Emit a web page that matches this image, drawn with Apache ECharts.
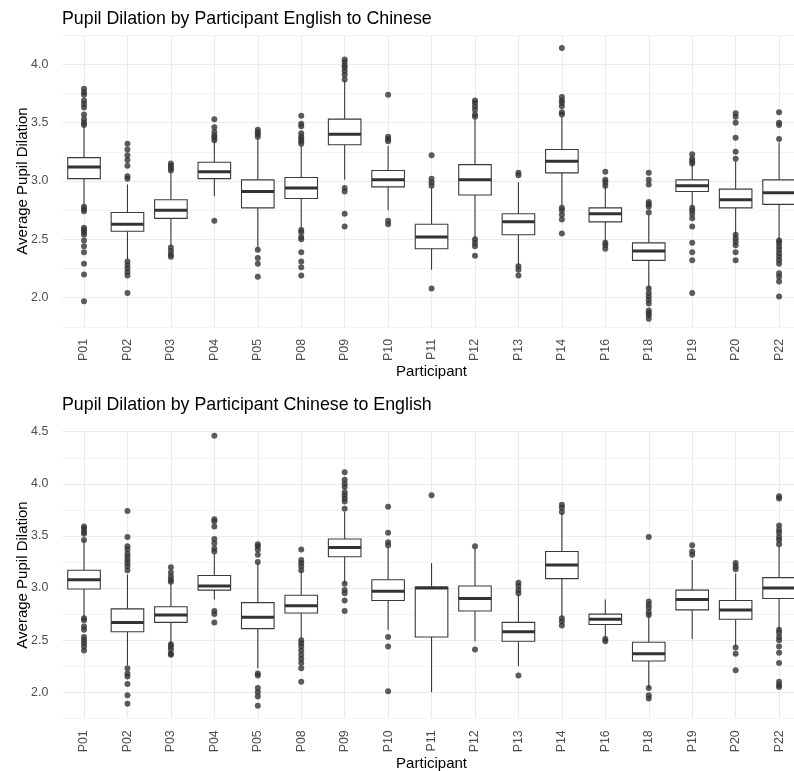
<!DOCTYPE html>
<html>
<head>
<meta charset="utf-8">
<script src="https://cdn.jsdelivr.net/npm/echarts@6/dist/echarts.min.js"></script>
<style>
html,body{margin:0;padding:0;background:#fff;}
#chart{width:794px;height:771px;}
</style>
</head>
<body>
<div id="chart"></div>
<script>
const participants = ['P01','P02','P03','P04','P05','P08','P09','P10','P11','P12','P13','P14','P16','P18','P19','P20','P22'];

// English to Chinese: [lower whisker, Q1, median, Q3, upper whisker]
const ecBoxes = [
  [2.79, 3.02, 3.12, 3.20, 3.47],
  [2.33, 2.57, 2.63, 2.73, 2.97],
  [2.44, 2.68, 2.75, 2.84, 3.08],
  [2.87, 3.02, 3.08, 3.16, 3.34],
  [2.42, 2.77, 2.91, 3.01, 3.37],
  [2.59, 2.85, 2.94, 3.03, 3.30],
  [3.01, 3.31, 3.40, 3.53, 3.86],
  [2.75, 2.95, 3.01, 3.09, 3.30],
  [2.24, 2.42, 2.52, 2.63, 2.94],
  [2.50, 2.88, 3.01, 3.14, 3.53],
  [2.27, 2.54, 2.65, 2.72, 2.99],
  [2.79, 3.07, 3.17, 3.27, 3.55],
  [2.47, 2.65, 2.72, 2.77, 2.96],
  [2.08, 2.32, 2.40, 2.47, 2.71],
  [2.78, 2.91, 2.96, 3.01, 3.15],
  [2.53, 2.77, 2.84, 2.93, 3.17],
  [2.49, 2.80, 2.90, 3.01, 3.33]
];
const ecOutliers = [
  [3.79, 3.76, 3.74, 3.69, 3.66, 3.63, 3.57, 3.53, 3.50, 3.48, 2.78, 2.76, 2.74, 2.60, 2.58, 2.56, 2.54, 2.49, 2.44, 2.39, 2.29, 2.20, 1.97],
  [3.32, 3.27, 3.22, 3.18, 3.13, 3.04, 3.02, 2.31, 2.28, 2.25, 2.22, 2.19, 2.04],
  [3.15, 3.13, 3.11, 3.09, 2.43, 2.40, 2.37, 2.35],
  [3.53, 3.46, 3.42, 3.39, 3.37, 3.35, 2.66],
  [3.44, 3.42, 3.40, 3.38, 2.41, 2.34, 2.29, 2.18],
  [3.56, 3.49, 3.47, 3.41, 3.38, 3.36, 3.34, 3.32, 2.58, 2.56, 2.52, 2.50, 2.39, 2.31, 2.26, 2.19],
  [4.04, 4.02, 3.99, 3.97, 3.94, 3.91, 3.87, 2.94, 2.91, 2.72, 2.61],
  [3.74, 3.38, 3.36, 3.34, 2.66, 2.63],
  [3.22, 3.02, 2.99, 2.96, 2.08],
  [3.69, 3.67, 3.64, 3.61, 3.57, 3.55, 2.50, 2.47, 2.44, 2.36],
  [3.07, 3.05, 2.27, 2.24, 2.19],
  [4.14, 3.72, 3.69, 3.67, 3.64, 3.59, 3.57, 2.77, 2.75, 2.71, 2.67, 2.55],
  [3.08, 3.01, 2.99, 2.96, 2.47, 2.45, 2.42],
  [3.07, 3.01, 2.97, 2.82, 2.80, 2.78, 2.73, 2.08, 2.04, 2.01, 1.98, 1.95, 1.89, 1.87, 1.85, 1.82],
  [3.23, 3.19, 3.17, 3.15, 2.77, 2.75, 2.72, 2.68, 2.61, 2.47, 2.39, 2.32, 2.04],
  [3.58, 3.55, 3.50, 3.37, 3.25, 3.19, 2.54, 2.51, 2.48, 2.45, 2.39, 2.32],
  [3.59, 3.50, 3.48, 3.36, 2.49, 2.47, 2.44, 2.41, 2.38, 2.35, 2.32, 2.29, 2.21, 2.18, 2.14, 2.01]
];

// Chinese to English: [lower whisker, Q1, median, Q3, upper whisker]
const ceBoxes = [
  [2.71, 2.99, 3.08, 3.17, 3.46],
  [2.26, 2.58, 2.67, 2.80, 3.13],
  [2.45, 2.67, 2.74, 2.82, 3.05],
  [2.89, 2.98, 3.02, 3.12, 3.33],
  [2.23, 2.61, 2.72, 2.86, 3.24],
  [2.51, 2.76, 2.83, 2.93, 3.17],
  [3.04, 3.30, 3.39, 3.47, 3.73],
  [2.60, 2.88, 2.97, 3.08, 3.39],
  [2.00, 2.53, 3.00, 3.01, 3.24],
  [2.49, 2.78, 2.90, 3.02, 3.38],
  [2.25, 2.49, 2.58, 2.67, 2.94],
  [2.72, 3.09, 3.22, 3.35, 3.72],
  [2.52, 2.65, 2.70, 2.75, 2.89],
  [2.04, 2.30, 2.37, 2.48, 2.75],
  [2.51, 2.79, 2.89, 2.98, 3.27],
  [2.44, 2.70, 2.79, 2.88, 3.14],
  [2.60, 2.90, 3.00, 3.10, 3.40]
];
const ceOutliers = [
  [3.59, 3.57, 3.54, 3.52, 3.46, 2.71, 2.69, 2.63, 2.60, 2.53, 2.50, 2.47, 2.44, 2.40],
  [3.74, 3.49, 3.40, 3.37, 3.33, 3.30, 3.27, 3.24, 3.21, 3.17, 2.23, 2.18, 2.15, 2.08, 1.97, 1.89],
  [3.20, 3.15, 3.11, 3.08, 3.06, 2.46, 2.44, 2.41, 2.37, 2.36],
  [4.46, 3.66, 3.64, 3.59, 3.47, 3.43, 3.38, 3.35, 2.78, 2.75, 2.67],
  [3.42, 3.40, 3.37, 3.32, 3.25, 2.18, 2.16, 2.04, 2.00, 1.96, 1.87],
  [3.37, 3.27, 3.24, 3.21, 3.17, 2.50, 2.47, 2.44, 2.40, 2.36, 2.32, 2.28, 2.23, 2.10],
  [4.11, 4.04, 4.00, 3.97, 3.92, 3.89, 3.86, 3.83, 3.76, 3.04, 2.98, 2.95, 2.88, 2.78],
  [3.78, 3.53, 3.44, 3.41, 2.53, 2.44, 2.01],
  [3.89],
  [3.40, 2.41],
  [3.05, 3.02, 2.98, 2.95, 2.16],
  [3.80, 3.77, 3.73, 2.71, 2.68, 2.64],
  [2.51, 2.49],
  [3.49, 2.87, 2.84, 2.81, 2.77, 2.74, 2.04, 1.97, 1.94],
  [3.41, 3.35, 3.32],
  [3.24, 3.21, 3.18, 2.43, 2.37, 2.21],
  [3.88, 3.86, 3.60, 3.56, 3.53, 3.49, 3.46, 3.42, 2.60, 2.57, 2.53, 2.50, 2.44, 2.38, 2.28, 2.10, 2.07, 2.05]
];

const titles = ['Pupil Dilation by Participant English to Chinese', 'Pupil Dilation by Participant Chinese to English'];

const FONT = '"Liberation Sans", Arial, sans-serif';
const chart = echarts.init(document.getElementById('chart'), null, {renderer: 'canvas'});

function boxData(boxes) {
  return boxes.map((b, i) => [i, b[0], b[1], b[2], b[3], b[4]]);
}
function outlierData(outs) {
  const res = [];
  outs.forEach((arr, i) => arr.forEach(v => res.push([i, v])));
  return res;
}
function renderBox(params, api) {
  const idx = api.value(0);
  const lo = api.coord([idx, api.value(1)]);
  const q1 = api.coord([idx, api.value(2)]);
  const md = api.coord([idx, api.value(3)]);
  const q3 = api.coord([idx, api.value(4)]);
  const hi = api.coord([idx, api.value(5)]);
  const w = api.size([1, 0])[0] * 0.75;
  const x = q1[0];
  const lineStyle = {stroke: '#3a3a3a', lineWidth: 1.1, fill: null};
  return {
    type: 'group',
    children: [
      {type: 'line', shape: {x1: x, y1: q3[1], x2: x, y2: hi[1]}, style: lineStyle},
      {type: 'line', shape: {x1: x, y1: q1[1], x2: x, y2: lo[1]}, style: lineStyle},
      {type: 'rect', shape: {x: x - w / 2, y: q3[1], width: w, height: q1[1] - q3[1]},
        style: {fill: '#ffffff', stroke: '#3a3a3a', lineWidth: 1.1}},
      {type: 'line', shape: {x1: x - w / 2, y1: md[1], x2: x + w / 2, y2: md[1]},
        style: {stroke: '#333333', lineWidth: 3}}
    ]
  };
}

const grids = [
  {left: 62.3, width: 738.5, top: 35.1, height: 291.8, outerBoundsMode: 'none', containLabel: false},
  {left: 62.3, width: 738.5, top: 431.7, height: 286.6, outerBoundsMode: 'none', containLabel: false}
];
const yRanges = [[1.75, 4.25], [1.75, 4.5]];

const option = {
  backgroundColor: '#ffffff',
  animation: false,
  title: titles.map((t, i) => ({
    text: t,
    left: 57,
    top: i === 0 ? 5 : 391,
    textStyle: {fontFamily: FONT, fontSize: 17.8, fontWeight: 'normal', color: '#000000'}
  })),
  grid: grids,
  xAxis: [0, 1].map(i => ({
    type: 'category',
    gridIndex: i,
    data: participants,
    boundaryGap: true,
    axisLine: {show: false},
    axisTick: {show: false, alignWithLabel: true},
    splitLine: {show: true, alignWithLabel: true, lineStyle: {color: '#ebebeb', width: 1}},
    axisLabel: {rotate: 90, fontFamily: FONT, fontSize: 12.4, color: '#4d4d4d', margin: 12, interval: 0},
    name: 'Participant',
    nameLocation: 'middle',
    nameGap: i === 0 ? 37 : 36,
    nameTextStyle: {fontFamily: FONT, fontSize: 15, color: '#000000'}
  })),
  yAxis: [0, 1].map(i => ({
    type: 'value',
    gridIndex: i,
    min: yRanges[i][0],
    max: yRanges[i][1],
    interval: 0.25,
    axisLine: {show: false},
    axisTick: {show: false},
    splitLine: {show: true, lineStyle: {color: ['#f4f4f4', '#ebebeb'], width: 1}},
    axisLabel: {
      fontFamily: FONT, fontSize: 12.4, color: '#4d4d4d', margin: 14,
      formatter: v => (Math.abs(v * 2 - Math.round(v * 2)) < 1e-6 ? v.toFixed(1) : '')
    },
    name: 'Average Pupil Dilation',
    nameLocation: 'middle',
    nameGap: 32,
    nameMoveOverlap: false,
    nameTextStyle: {fontFamily: FONT, fontSize: 15, color: '#000000'}
  })),
  series: [
    {type: 'custom', xAxisIndex: 0, yAxisIndex: 0, renderItem: renderBox, data: boxData(ecBoxes),
      encode: {x: 0, y: [1, 2, 3, 4, 5]}, z: 2},
    {type: 'scatter', xAxisIndex: 0, yAxisIndex: 0, data: outlierData(ecOutliers), symbol: 'circle', symbolSize: 6,
      itemStyle: {color: '#333333'}, z: 3},
    {type: 'custom', xAxisIndex: 1, yAxisIndex: 1, renderItem: renderBox, data: boxData(ceBoxes),
      encode: {x: 0, y: [1, 2, 3, 4, 5]}, z: 2},
    {type: 'scatter', xAxisIndex: 1, yAxisIndex: 1, data: outlierData(ceOutliers), symbol: 'circle', symbolSize: 6,
      itemStyle: {color: '#333333'}, z: 3}
  ]
};
chart.setOption(option);
</script>
</body>
</html>
